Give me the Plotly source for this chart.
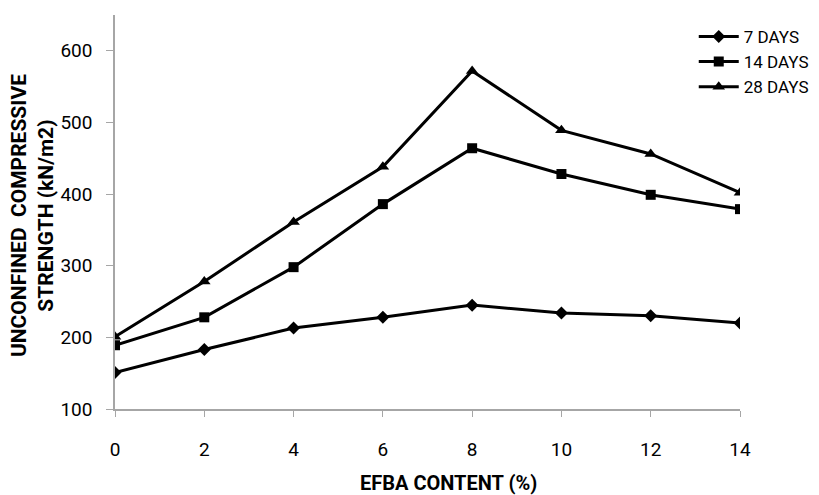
import plotly.graph_objects as go

efba = [0, 2, 4, 6, 8, 10, 12, 14]
days7 = [151, 183, 213, 228, 245, 234, 230, 220]
days14 = [189, 228, 298, 386, 464, 428, 399, 379]
days28 = [201, 278, 361, 438, 572, 489, 456, 402]
series_names = ["7 DAYS", "14 DAYS", "28 DAYS"]
y_ticks = [100, 200, 300, 400, 500, 600]
x_ticks = [0, 2, 4, 6, 8, 10, 12, 14]

FONT = "Liberation Sans Narrow, Roboto, sans-serif"

fig = go.Figure()
for name, vals, sym, sz in [
    (series_names[0], days7, "diamond", 10),
    (series_names[1], days14, "square", 10),
    (series_names[2], days28, "triangle-up", 11),
]:
    fig.add_trace(go.Scatter(
        x=efba, y=vals, name=name, mode="lines+markers",
        line=dict(color="black", width=3),
        marker=dict(symbol=sym, size=sz, color="black"),
    ))

fig.update_layout(
    width=819, height=495,
    margin=dict(l=107, r=87, t=7, b=94, autoexpand=False),
    paper_bgcolor="white", plot_bgcolor="white",
    font=dict(family=FONT, color="black", size=17),
    showlegend=True,
    legend=dict(x=0.926, y=0.99, xanchor="left", yanchor="top",
                font=dict(size=17, family=FONT), itemwidth=40,
                tracegroupgap=0, bgcolor="rgba(0,0,0,0)"),
    xaxis=dict(range=[0, 14], tickvals=x_ticks, showgrid=False, zeroline=False,
               showline=True, linecolor="#a6a6a6", linewidth=1.5,
               ticks="outside", ticklen=6, tickcolor="#a6a6a6",
               ticklabelstandoff=16, automargin=False,
               tickfont=dict(size=19, family=FONT)),
    yaxis=dict(range=[100, 650], tickvals=y_ticks, showgrid=False, zeroline=False,
               showline=True, linecolor="#a6a6a6", linewidth=1.5,
               ticks="outside", ticklen=7, tickcolor="#a6a6a6",
               ticklabelstandoff=10, automargin=False,
               tickfont=dict(size=19, family=FONT)),
    annotations=[
        dict(text="<b>UNCONFINED  COMPRESSIVE<br>STRENGTH (kN/m2)</b>",
             xref="paper", yref="paper", x=-0.131, y=0.49,
             xanchor="center", yanchor="middle", textangle=-90, showarrow=False,
             font=dict(size=21, family=FONT)),
        dict(text="<b>EFBA CONTENT (%)</b>",
             xref="paper", yref="paper", x=0.533, y=-0.188,
             xanchor="center", yanchor="middle", showarrow=False,
             font=dict(size=20, family=FONT)),
    ],
)

fig.write_html("out.html")
